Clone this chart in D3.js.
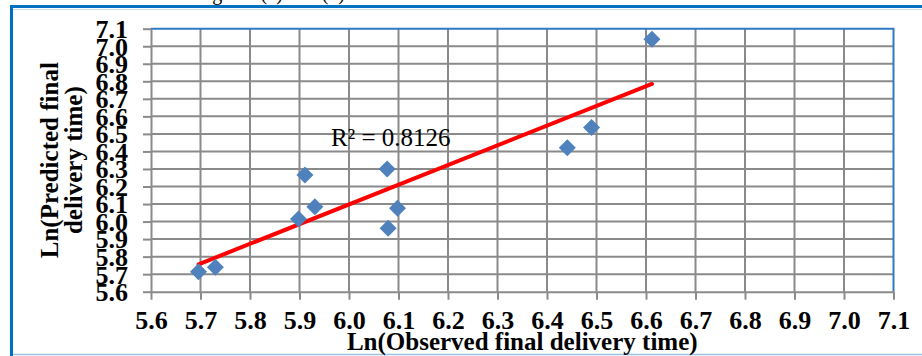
<!DOCTYPE html>
<html>
<head>
<meta charset="utf-8">
<script src="https://cdn.jsdelivr.net/npm/d3@7"></script>
<style>
  body { margin: 0; background: #fff; }
  text { font-family: "Liberation Serif", "Times New Roman", serif; }
</style>
</head>
<body>
<div id="chart"></div>
<script>
// observed vs predicted (ln scale)
var observed  = [5.696, 5.730, 5.898, 5.931, 5.911, 6.077, 6.098, 6.079, 6.441, 6.490, 6.612];
var predicted = [5.714, 5.739, 6.015, 6.085, 6.266, 6.300, 6.076, 5.962, 6.421, 6.536, 7.040];
var tickValues = [5.6, 5.7, 5.8, 5.9, 6.0, 6.1, 6.2, 6.3, 6.4, 6.5, 6.6, 6.7, 6.8, 6.9, 7.0, 7.1];
var r2Label = "R\u00b2 = 0.8126";

var svgWidth = 922;
var svgHeight = 356;

var plot = { left: 151, right: 893.5, top: 28.7, bottom: 291.7 };

var svg = d3.select("#chart")
  .append("svg")
  .attr("width", svgWidth)
  .attr("height", svgHeight);

// cropped line of text above the figure
svg.append("text")
  .attr("x", 350)
  .attr("y", 0)
  .attr("text-anchor", "end")
  .style("font-size", "20px")
  .text("are shown in figures (a) and (b).");

// outer frame
svg.append("line")
  .attr("x1", 10).attr("x2", svgWidth)
  .attr("y1", 6.5).attr("y2", 6.5)
  .attr("stroke", "#0070c0").attr("stroke-width", 3);
svg.append("line")
  .attr("x1", 12).attr("x2", svgWidth)
  .attr("y1", 9.5).attr("y2", 9.5)
  .attr("stroke", "#c5dcf0").attr("stroke-width", 1);
svg.append("line")
  .attr("x1", 11.5).attr("x2", 11.5)
  .attr("y1", 5).attr("y2", svgHeight)
  .attr("stroke", "#0070c0").attr("stroke-width", 3);
svg.append("line")
  .attr("x1", 13).attr("x2", svgWidth)
  .attr("y1", 354.5).attr("y2", 354.5)
  .attr("stroke", "#9dc3e6").attr("stroke-width", 1.5);

var x = d3.scaleLinear().domain([5.6, 7.1]).range([plot.left, plot.right]);
var y = d3.scaleLinear().domain([5.6, 7.1]).range([plot.bottom, plot.top]);

// grid
var grid = svg.append("g");
grid.selectAll(".vg")
  .data(tickValues.slice(1, -1))
  .enter().append("line")
  .attr("x1", d => x(d)).attr("x2", d => x(d))
  .attr("y1", plot.top).attr("y2", plot.bottom)
  .attr("stroke", "#8a8a8a").attr("stroke-width", 2);
grid.selectAll(".hg")
  .data(tickValues.slice(1, -1))
  .enter().append("line")
  .attr("x1", plot.left).attr("x2", plot.right)
  .attr("y1", d => y(d)).attr("y2", d => y(d))
  .attr("stroke", "#8a8a8a").attr("stroke-width", 2);

// plot border top / right
svg.append("path")
  .attr("d", `M${plot.left},${plot.top}H${plot.right}V${plot.bottom}`)
  .attr("fill", "none")
  .attr("stroke", "#2f7ac6")
  .attr("stroke-width", 2);

var bottomAxis = d3.axisBottom(x).tickValues(tickValues).tickFormat(d3.format(".1f")).tickSize(8).tickSizeOuter(0);
var leftAxis = d3.axisLeft(y).tickValues(tickValues).tickFormat(d3.format(".1f")).tickSize(8).tickSizeOuter(0);

var xAxis = svg.append("g")
  .attr("transform", `translate(0, ${plot.bottom})`)
  .call(bottomAxis);
var yAxis = svg.append("g")
  .attr("transform", `translate(${plot.left}, 0)`)
  .call(leftAxis);

[xAxis, yAxis].forEach(function(a) {
  a.attr("font-family", "'Liberation Serif', serif").attr("font-size", 26);
  a.select(".domain").attr("stroke", "#8a8a8a").attr("stroke-width", 2);
  a.selectAll(".tick line").attr("stroke", "#8a8a8a").attr("stroke-width", 2);
  a.selectAll(".tick text")
    .attr("fill", "#000")
    .style("font-weight", "bold")
    .style("font-size", "26px");
});
xAxis.selectAll(".tick text").attr("y", 19).attr("dy", "0.71em");
yAxis.selectAll(".tick text").attr("x", -23).attr("dy", "0.34em");

// trend line (least squares)
var mx = d3.mean(observed), my = d3.mean(predicted);
var sxy = d3.sum(observed, (v, i) => (v - mx) * (predicted[i] - my));
var sxx = d3.sum(observed, v => (v - mx) * (v - mx));
var slope = sxy / sxx;
var intercept = my - slope * mx;
var xr = d3.extent(observed);

svg.append("line")
  .attr("x1", x(xr[0])).attr("y1", y(intercept + slope * xr[0]))
  .attr("x2", x(xr[1])).attr("y2", y(intercept + slope * xr[1]))
  .attr("stroke", "#ff0000")
  .attr("stroke-width", 4)
  .attr("stroke-linecap", "round");

// points
var diamond = "M0,-8.5L8.5,0L0,8.5L-8.5,0Z";
svg.append("g").selectAll("path")
  .data(observed)
  .enter().append("path")
  .attr("d", diamond)
  .attr("transform", (d, i) => `translate(${x(d)}, ${y(predicted[i])})`)
  .attr("fill", "#4f81bd");

svg.append("text")
  .attr("x", 331)
  .attr("y", 146)
  .style("font-size", "25px")
  .text(r2Label);

// axis titles
svg.append("text")
  .attr("x", (plot.left + plot.right) / 2)
  .attr("y", 350)
  .attr("text-anchor", "middle")
  .style("font-size", "25px")
  .style("font-weight", "bold")
  .text("Ln(Observed final delivery time)");

var yTitle = svg.append("text")
  .attr("transform", `translate(58, ${(plot.top + plot.bottom) / 2}) rotate(-90)`)
  .attr("text-anchor", "middle")
  .style("font-size", "25px")
  .style("font-weight", "bold");
yTitle.append("tspan").attr("x", 0).attr("y", 0).text("Ln(Predicted  final");
yTitle.append("tspan").attr("x", 0).attr("y", 24).text("delivery time)");
</script>
</body>
</html>
